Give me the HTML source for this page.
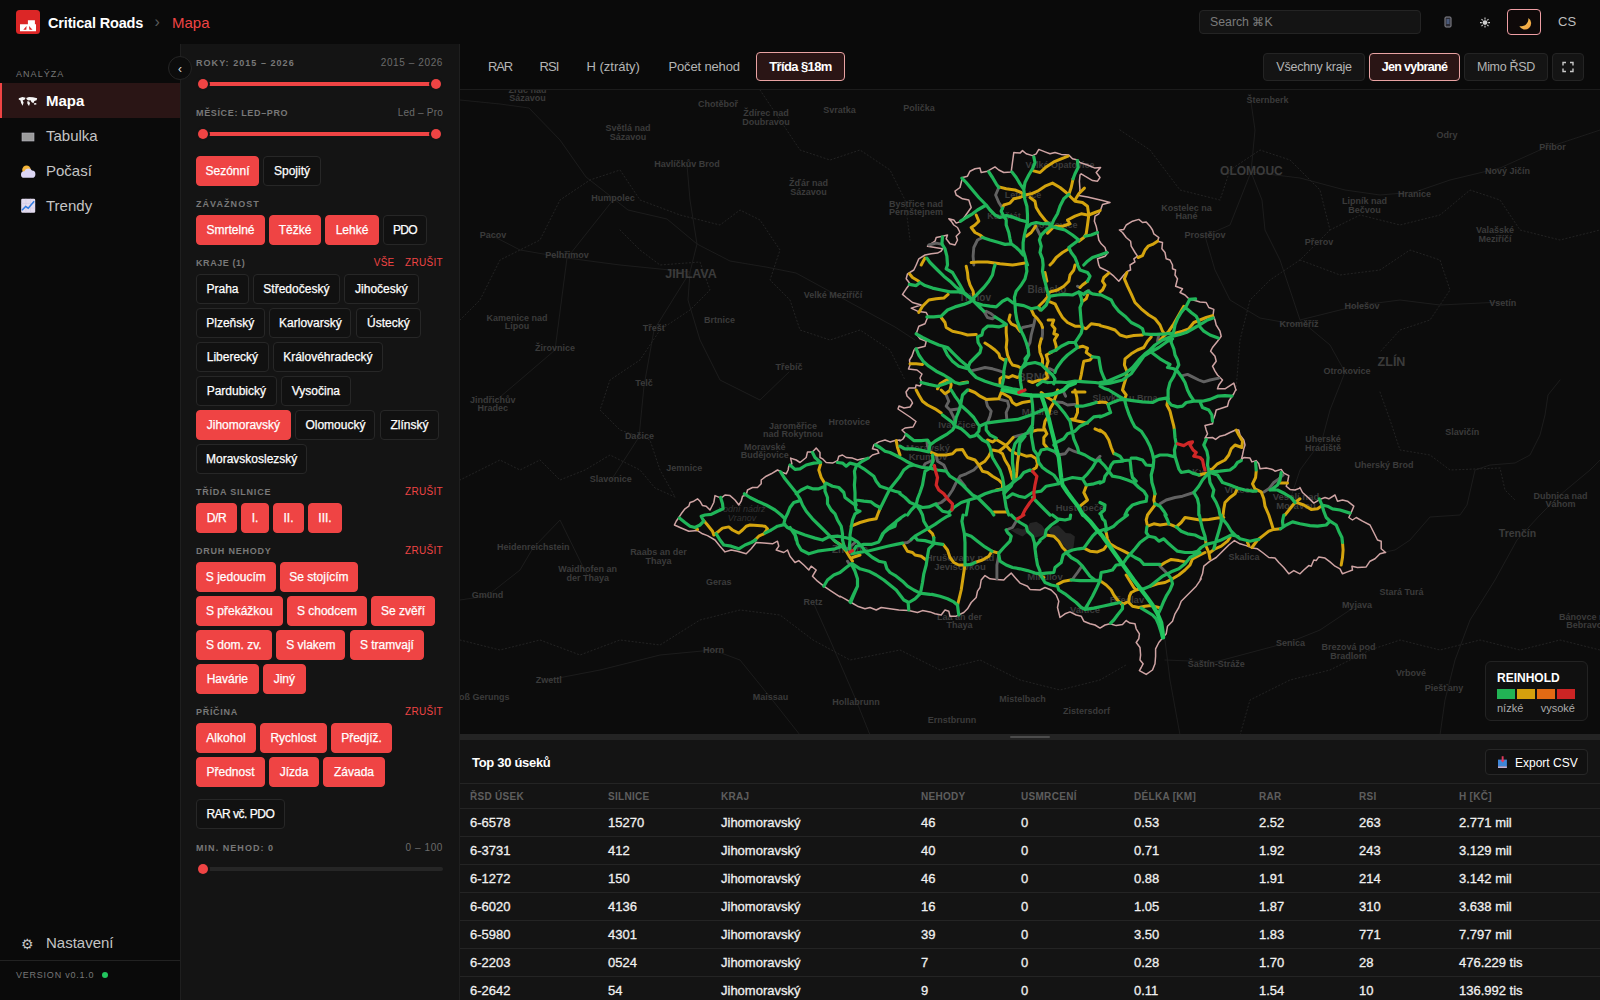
<!DOCTYPE html>
<html lang="cs">
<head>
<meta charset="utf-8">
<title>Critical Roads – Mapa</title>
<style>
*{box-sizing:border-box;margin:0;padding:0}
html,body{width:1600px;height:1000px;overflow:hidden;background:#0a0a0a;color:#eee;font-family:"Liberation Sans",sans-serif;-webkit-font-smoothing:antialiased}
body{position:relative}
/* ---------- top bar ---------- */
.topbar{position:absolute;left:0;top:0;width:1600px;height:44px;background:#0a0a0a}
.logo{position:absolute;left:16px;top:10px;width:24px;height:24px;border-radius:3.5px;background:#dc2626}
.brand{position:absolute;left:48px;top:14px;font-size:14.5px;letter-spacing:-.17px;font-weight:700;color:#fff;line-height:18px;white-space:nowrap}
.crumb-sep{position:absolute;left:154.500px;top:13px;font-size:16px;color:#5a5a5a;line-height:18px}
.crumb{position:absolute;left:172px;top:14px;font-size:15px;color:#ef4444;line-height:18px}
.search{position:absolute;left:1199px;top:10px;width:222px;height:24px;border:1px solid #242424;border-radius:4px;background:#141414;color:#7a7a7a;font-size:12.3px;line-height:22px;padding-left:10px}
.tb-ico{position:absolute;top:9px;height:26px;width:34px}
.tb-ico.on{border:1px solid #ee9ea4;border-radius:4px;background:#0e0909}
.lang{position:absolute;left:1558px;top:14px;font-size:13px;color:#bdbdbd;line-height:16px}
/* ---------- sidebar ---------- */
.sidebar{position:absolute;left:0;top:44px;width:181px;height:956px;background:#0a0a0a;border-right:1px solid #1f1f1f}
.side-label{position:absolute;left:16px;top:25px;font-size:9px;letter-spacing:1.05px;color:#777;line-height:10px}
.nav{position:absolute;left:0;top:39px;width:180px}
.nav a{display:block;height:35px;line-height:35px;padding-left:46px;font-size:15px;color:#c4c4c4;position:relative;text-decoration:none}
.nav a.active{background:#2a1515;color:#fff;font-weight:700;border-left:2px solid #ef4444;padding-left:44px}
.nav a svg{position:absolute;left:0;top:0}
.nav a.active svg{left:-2px}
.side-foot{position:absolute;left:0;bottom:0;width:180px;height:75px}
.side-foot .set{position:absolute;left:46px;top:9px;font-size:15px;color:#c4c4c4;line-height:18px}
.side-foot .gear{position:absolute;left:21px;top:10px;font-size:14px;color:#c4c4c4;line-height:18px}
.side-foot .ver{position:absolute;left:0;top:35px;width:180px;height:40px;border-top:1px solid #222;padding:9px 0 0 16px;font-size:9px;letter-spacing:.77px;color:#777;line-height:10px}
.dot{position:absolute;left:101.500px;top:11px;width:6px;height:6px;border-radius:50%;background:#22c55e}
.collapse{position:absolute;left:168px;top:56px;width:24px;height:24px;border-radius:50%;background:#0c0c0c;border:1px solid #252525;color:#ddd;font-size:12px;text-align:center;line-height:24px;z-index:5}
/* ---------- filter panel ---------- */
.filters{position:absolute;left:181px;top:44px;width:279px;height:956px;background:#141414;border-right:1px solid #1f1f1f}
.f-abs{position:absolute;left:15px}
.f-label{font-size:9px;font-weight:700;letter-spacing:1.05px;color:#787878;line-height:10px;white-space:nowrap}
.f-right{position:absolute;right:16px;font-size:10px;color:#6b6b6b;line-height:10px;letter-spacing:.6px;white-space:nowrap}
.f-act{position:absolute;right:16px;font-size:10px;color:#ef4444;line-height:10px;letter-spacing:.3px;white-space:nowrap}
.track{position:absolute;left:22px;width:233px;height:4px;border-radius:2px;background:#ef4444}
.track.empty{background:#262626;width:240px}
.thumb{position:absolute;width:10px;height:10px;border-radius:50%;background:#ef4444;box-shadow:0 0 0 2px #141414}
.chips{position:absolute;left:15px;height:30px;white-space:nowrap;font-size:0}
.chip{-webkit-text-stroke:.25px #fff;display:inline-block;height:30px;line-height:28.500px;border:1px solid #272727;border-radius:4px;background:#111;color:#fff;font-size:12px;text-align:center;margin-right:4px;vertical-align:top}
.chip.on{background:#ef4444;border-color:#ef4444}
/* ---------- main ---------- */
.maptools{position:absolute;left:460px;top:44px;width:1140px;height:46px;background:#0a0a0a;border-bottom:1px solid #1c1c1c}
.mt{position:absolute;top:15px;font-size:13px;color:#b5b5b5;line-height:16px;white-space:nowrap}
.mbtn{position:absolute;top:9px;height:28px;border:1px solid #242424;border-radius:4px;background:#141414;color:#b5b5b5;font-size:13px;line-height:26px;text-align:center;white-space:nowrap}
.mbtn.on{border-color:#e9a3a3;background:#2a1515;color:#fff;font-weight:700}
.map{position:absolute;left:460px;top:90px;width:1140px;height:644px;background:#0c0c0c;overflow:hidden}
.legend{position:absolute;left:1025px;top:571px;width:103px;height:60px;border:1px solid #232323;border-radius:6px;background:rgba(17,17,17,.94)}
.legend b{position:absolute;left:11px;top:9px;font-size:12px;line-height:14px;color:#fff}
.legend i{position:absolute;top:27px;width:18px;height:10px}
.legend span{position:absolute;top:40px;font-size:11px;line-height:13px;color:#aaa}
.split{position:absolute;left:460px;top:734px;width:1140px;height:6px;background:#242424}
.split:after{content:"";position:absolute;left:550px;top:2px;width:40px;height:2px;border-radius:1px;background:#4c4c4c}
/* ---------- table ---------- */
.tpanel{position:absolute;left:460px;top:740px;width:1140px;height:260px;background:#141414;overflow:hidden}
.ttitle{position:absolute;left:12px;top:15px;font-size:13px;letter-spacing:-.3px;font-weight:700;color:#fff;line-height:16px}
.export{position:absolute;left:1025px;top:9px;width:103px;height:26px;border:1px solid #272727;border-radius:4px;background:#111;font-size:12px;color:#fff;line-height:24px;padding:1px 0 0 29px}
table{position:absolute;left:0;top:43px;width:1140px;border-collapse:collapse;table-layout:fixed}
th{height:25px;border-top:1px solid #242424;border-bottom:1px solid #242424;font-size:10px;font-weight:700;letter-spacing:.3px;color:#5e5e5e;text-align:left;padding:0}
td{-webkit-text-stroke:.3px #f0f0f0;height:28px;border-bottom:1px solid #242424;font-size:13px;color:#f0f0f0;padding:0;white-space:nowrap}
th:first-child,td:first-child{padding-left:10px}
</style>
</head>
<body>
<!-- TOPBAR -->
<header class="topbar">
  <div class="logo"><svg width="24" height="24" viewBox="0 0 24 24"><path d="M4,14.200H11.900V10.200H18.900V14.200H20V21.200H4z" fill="#fff"/><path d="M7.300,19.800L10.600,16L10.300,19.800zM13,16L16.500,19.800L13.400,19.800z" fill="#dc2626"/></svg></div>
  <div class="brand">Critical Roads</div>
  <div class="crumb-sep">›</div>
  <div class="crumb">Mapa</div>
  <div class="search">Search ⌘K</div>
  <div class="tb-ico" style="left:1431px"><svg width="34" height="26"><rect x="14" y="8" width="6" height="10" rx="1" fill="#2b2b33" stroke="#8a8a92" stroke-width="1"/><rect x="15.5" y="10" width="3" height="5" fill="#4a5a7a"/></svg></div>
  <div class="tb-ico" style="left:1468px"><svg width="34" height="26"><circle cx="17" cy="13.600" r="2.400" fill="#cfcfcf"/><g stroke="#cfcfcf" stroke-width="1.100"><path d="M17,8.600v1.800M17,16.800v1.800M12,13.600h1.800M20.200,13.600h1.800M13.500,10.100l1.250,1.250M19.250,15.850l1.250,1.250M13.500,17.100l1.250,-1.250M19.250,11.350l1.250,-1.250"/></g></svg></div>
  <div class="tb-ico on" style="left:1507px"><svg width="32" height="24"><defs><linearGradient id="mg" x1="0" y1="0" x2="1" y2="1"><stop offset="0" stop-color="#f8cf5a"/><stop offset="1" stop-color="#ee9a3c"/></linearGradient></defs><path d="M20.300,8A6.250,6.250 0 1 1 11.300,16A7.200,7.200 0 0 0 20.300,8z" fill="url(#mg)"/></svg></div>
  <div class="lang">CS</div>
</header>

<!-- SIDEBAR -->
<aside class="sidebar">
  <div class="side-label">ANALÝZA</div>
  <nav class="nav">
    <a class="active"><svg width="40" height="35" viewBox="0 0 40 35"><path d="M18.800,15.200l3.600,-1.200 3.200,.8 -.8,1.800 -2.200,1 1,1.800 -1,3.400 -1.500,-2.800 -.6,-2.400 -1.800,-1.200zM26.200,15l2.800,-1 4,.200 4.200,1 -.6,2 -2.200,.8 -1,2.200 -2,-1.200 -.8,-1.800 -2.200,.200 -1.600,-1zM27.200,18.200l2,.200 .8,1.800 -1,2.800 -1.600,-2.200zM34,20.200l2.200,-.2 .2,1.600 -2.200,.2z" fill="#f4f4f4"/></svg>Mapa</a>
    <a><svg width="40" height="35" viewBox="0 0 40 35"><rect x="22" y="15" width="12" height="8" fill="#9b9b9b" stroke="#b9b9c4" stroke-width=".6"/></svg>Tabulka</a>
    <a><svg width="40" height="35" viewBox="0 0 40 35"><circle cx="26.500" cy="16.800" r="4.300" fill="#f5b63b"/><path d="M24.200,24.800a3.300,3.300 0 0 1 .2,-6.600a4.200,4.200 0 0 1 7.600,-.6a3.600,3.600 0 0 1 -.4,7.200z" fill="#dcd6f5"/></svg>Počasí</a>
    <a><svg width="40" height="35" viewBox="0 0 40 35"><rect x="21.200" y="10.700" width="14" height="14" rx="1.200" fill="#e3dcf0"/><path d="M21.200,15.400h14M21.200,20h14M25.900,10.700v14M30.500,10.700v14" stroke="#cfc6e2" stroke-width=".5"/><path d="M22,22.200l3.600,-3.800 2.600,1.800 6,-7" stroke="#2f7be0" stroke-width="1.500" fill="none"/></svg>Trendy</a>
  </nav>
  <div class="side-foot">
    <div class="gear">⚙</div><div class="set">Nastavení</div>
    <div class="ver">VERSION v0.1.0<span class="dot"></span></div>
  </div>
</aside>
<div class="collapse">‹</div>

<!-- FILTERS -->
<section class="filters" id="filters">
  <div class="f-abs f-label" style="top:14px">ROKY: 2015 – 2026</div>
  <div class="f-right" style="top:14px">2015 – 2026</div>
  <div class="track" style="top:38px"></div><div class="thumb" style="left:17px;top:35px"></div><div class="thumb" style="left:250px;top:35px"></div>
  <div class="f-abs f-label" style="top:64px;letter-spacing:0.65px">MĚSÍCE: LED–PRO</div>
  <div class="f-right" style="top:64px"><span style="letter-spacing:.2px">Led – Pro</span></div>
  <div class="track" style="top:88px"></div><div class="thumb" style="left:17px;top:85px"></div><div class="thumb" style="left:250px;top:85px"></div>
  <div class="f-abs f-label" style="top:155px">ZÁVAŽNOST</div>
  <div class="f-abs f-label" style="top:214px;letter-spacing:0.58px">KRAJE (1)</div>
  <div class="f-act" style="top:214px">VŠE<span style="display:inline-block;width:10.500px"></span>ZRUŠIT</div>
  <div class="f-abs f-label" style="top:443px;letter-spacing:0.77px">TŘÍDA SILNICE</div>
  <div class="f-act" style="top:443px">ZRUŠIT</div>
  <div class="f-abs f-label" style="top:502px;letter-spacing:0.78px">DRUH NEHODY</div>
  <div class="f-act" style="top:502px">ZRUŠIT</div>
  <div class="f-abs f-label" style="top:663px;letter-spacing:0.7px">PŘÍČINA</div>
  <div class="f-act" style="top:663px">ZRUŠIT</div>
  <div class="f-abs f-label" style="top:799px">MIN. NEHOD: 0</div>
  <div class="f-right" style="top:799px">0 – 100</div>
  <div class="track empty" style="top:823px"></div><div class="thumb" style="left:17px;top:820px"></div>
  <span class="chip on" style="position:absolute;left:15px;top:112px;width:63px">Sezónní</span>
  <span class="chip" style="position:absolute;left:82.4px;top:112px;width:57.2px">Spojitý</span>
  <span class="chip on" style="position:absolute;left:15px;top:171px;width:69px">Smrtelné</span>
  <span class="chip on" style="position:absolute;left:88px;top:171px;width:52px">Těžké</span>
  <span class="chip on" style="position:absolute;left:144px;top:171px;width:54px">Lehké</span>
  <span class="chip" style="position:absolute;left:202px;top:171px;width:44px;letter-spacing:-0.6px">PDO</span>
  <span class="chip" style="position:absolute;left:15px;top:230px;width:53px">Praha</span>
  <span class="chip" style="position:absolute;left:72.2px;top:230px;width:86.4px">Středočeský</span>
  <span class="chip" style="position:absolute;left:163px;top:230px;width:74.8px">Jihočeský</span>
  <span class="chip" style="position:absolute;left:15px;top:264px;width:68.5px">Plzeňský</span>
  <span class="chip" style="position:absolute;left:88.3px;top:264px;width:82.2px">Karlovarský</span>
  <span class="chip" style="position:absolute;left:175.3px;top:264px;width:64.3px">Ústecký</span>
  <span class="chip" style="position:absolute;left:15px;top:298px;width:72.8px">Liberecký</span>
  <span class="chip" style="position:absolute;left:92px;top:298px;width:109.7px">Královéhradecký</span>
  <span class="chip" style="position:absolute;left:15px;top:332px;width:80.7px">Pardubický</span>
  <span class="chip" style="position:absolute;left:100.2px;top:332px;width:69.4px">Vysočina</span>
  <span class="chip on" style="position:absolute;left:15px;top:366px;width:94.8px">Jihomoravský</span>
  <span class="chip" style="position:absolute;left:114.4px;top:366px;width:80.1px">Olomoucký</span>
  <span class="chip" style="position:absolute;left:199.3px;top:366px;width:58.3px">Zlínský</span>
  <span class="chip" style="position:absolute;left:15px;top:400px;width:111.4px">Moravskoslezský</span>
  <span class="chip on" style="position:absolute;left:15px;top:459px;width:40.9px;letter-spacing:-0.35px">D/R</span>
  <span class="chip on" style="position:absolute;left:60.2px;top:459px;width:27.6px">I.</span>
  <span class="chip on" style="position:absolute;left:92px;top:459px;width:31px">II.</span>
  <span class="chip on" style="position:absolute;left:127px;top:459px;width:34px">III.</span>
  <span class="chip on" style="position:absolute;left:15px;top:518px;width:79.7px">S jedoucím</span>
  <span class="chip on" style="position:absolute;left:99px;top:518px;width:77.8px">Se stojícím</span>
  <span class="chip on" style="position:absolute;left:15px;top:552px;width:86.7px">S překážkou</span>
  <span class="chip on" style="position:absolute;left:106.2px;top:552px;width:79.5px">S chodcem</span>
  <span class="chip on" style="position:absolute;left:190.2px;top:552px;width:63.6px">Se zvěří</span>
  <span class="chip on" style="position:absolute;left:15px;top:586px;width:75.6px">S dom. zv.</span>
  <span class="chip on" style="position:absolute;left:95.2px;top:586px;width:69.3px">S vlakem</span>
  <span class="chip on" style="position:absolute;left:169px;top:586px;width:73.8px">S tramvají</span>
  <span class="chip on" style="position:absolute;left:15px;top:620px;width:62.7px">Havárie</span>
  <span class="chip on" style="position:absolute;left:82px;top:620px;width:42.7px">Jiný</span>
  <span class="chip on" style="position:absolute;left:15px;top:679px;width:60px">Alkohol</span>
  <span class="chip on" style="position:absolute;left:79px;top:679px;width:66.8px">Rychlost</span>
  <span class="chip on" style="position:absolute;left:150px;top:679px;width:61px">Předjíž.</span>
  <span class="chip on" style="position:absolute;left:15px;top:713px;width:69px">Přednost</span>
  <span class="chip on" style="position:absolute;left:88px;top:713px;width:50px">Jízda</span>
  <span class="chip on" style="position:absolute;left:142px;top:713px;width:62px">Závada</span>
  <span class="chip" style="position:absolute;left:15px;top:755px;width:88.7px;letter-spacing:-0.5px">RAR vč. PDO</span>
</section>

<!-- MAIN -->
<div class="maptools">
  <span class="mt" style="left:28px;letter-spacing:-1.2px">RAR</span>
  <span class="mt" style="left:79.600px;letter-spacing:-.9px">RSI</span>
  <span class="mt" style="left:126.500px">H (ztráty)</span>
  <span class="mt" style="left:208.500px;letter-spacing:-.15px">Počet nehod</span>
  <span class="mbtn on" style="left:296px;top:8px;height:29px;line-height:27px;width:89px;letter-spacing:-.6px">Třída §18m</span>
  <span class="mbtn" style="left:803px;width:102px;font-size:12.500px;letter-spacing:-.25px">Všechny kraje</span>
  <span class="mbtn on" style="left:909px;width:91px;font-size:12.500px;letter-spacing:-.66px">Jen vybrané</span>
  <span class="mbtn" style="left:1004px;width:84px;font-size:12.500px;letter-spacing:-.32px">Mimo ŘSD</span>
  <span class="mbtn" style="left:1092px;width:32px"><svg width="30" height="26"><path d="M10 11.500V8.500h3M17 8.500h3v3M20 14.500v3h-3M13 17.500h-3v-3" stroke="#c8c8c8" stroke-width="1.400" fill="none"/></svg></span>
</div>
<div class="map" id="map">
<!--MAPSVG--><svg class="roads" width="1140" height="645" viewBox="460 90 1140 645" style="position:absolute;left:0;top:0" fill="none" stroke-linecap="round" stroke-linejoin="round">
<g fill="#252525" stroke="none"><path d="M1010.5,530 1017.5,528 1023,529.4 1028,526.6 1030,523 1036.4,521.7 1042,525.2 1044.8,529.4 1044,535 1039.2,536.4 1034.3,537.8 1030.8,535 1026.6,533.6 1022.4,536.4 1016,533.6z"/><path d="M1048.3,530 1053.2,526.6 1058,525.2 1061.6,528.7 1065.8,532.9 1070.7,533.6 1074.9,536.4 1074.2,542 1073.5,547.6 1069.3,550.4 1066.5,549 1063,544.8 1060.2,540.6 1056,536.4 1050.4,534.3z"/></g>
<g stroke="#1c1c1c" stroke-width="1" fill="none"><path d="M460,100 500,104 529,108 560,140 586,177 628,210 667,219 697,244 730,261 766,267 796,273 829,291 862,309 895,327 915,340"/><path d="M697,244 690,272 688,300 700,340 720,380 760,400 789,372"/><path d="M687,165 690,200 697,244"/><path d="M1250,95 1255,130 1251,172 1262,200 1265,230 1280,260 1290,290 1300,320 1330,345 1345,372 1330,410 1322,440 1300,470 1290,500"/><path d="M1251,172 1300,178 1345,190 1380,195 1415,192 1450,180 1500,168 1540,150 1600,130"/><path d="M1205,236 1230,225 1251,172"/><path d="M1205,236 1215,270 1230,300 1260,318 1299,325"/><path d="M1300,320 1340,310 1362,305 1400,300 1440,305 1502,302"/><path d="M1385,552 1395,550 1410,540 1430,517 1460,515 1467,505 1475,470 1490,465 1515,463 1530,455 1540,435 1545,415 1548,395 1560,380"/><path d="M1440,735 1445,700 1455,660 1470,620 1495,580 1517,540 1540,515 1560,495 1590,470 1600,460"/><path d="M1165,640 1170,680 1180,735"/><path d="M1165,660 1215,662 1260,650 1290,642 1320,630 1356,606"/><path d="M813,602 830,640 856,700 870,735"/><path d="M713,650 740,660 770,697 800,735"/><path d="M548,680 600,670 660,655 713,650"/><path d="M460,600 487,596 520,570 533,548 560,520 587,575"/><path d="M610,482 639,437 644,386 654,330 690,272"/><path d="M493,403 520,380 555,350 567,258 613,200"/><path d="M493,236 520,250 567,258 620,265 690,272"/></g>
<g stroke="#232323" stroke-width="1" stroke-dasharray="1.2 2.4" fill="none"><path d="M675,497 655,488 640,470 610,455 585,470 560,480 540,460 520,470 500,460 480,470 460,480"/><path d="M460,320 480,300 500,260 540,240 560,200 590,180 620,170 640,200 680,215 720,225 740,210 760,220 780,250 770,280 790,300 800,330 830,340 860,330 890,350 905,380"/><path d="M620,230 640,250 660,265 700,262 710,290 690,310 660,330 640,360 610,380 600,410 620,430 650,440 660,470 675,497"/><path d="M760,90 780,120 800,150 830,160 860,150 890,170 905,200 910,240"/><path d="M1120,130 1150,150 1180,190 1220,200 1230,170 1260,150 1290,160 1320,190 1330,230 1300,260 1270,280 1250,300 1240,340 1236,390"/><path d="M1330,230 1360,215 1400,225 1440,215 1470,190 1500,200 1520,230 1560,240 1600,230"/><path d="M1300,260 1340,275 1380,270 1410,250 1440,260 1450,290 1430,320 1400,330 1380,352"/><path d="M1380,392 1390,420 1400,450 1430,455 1450,470 1500,468 1505,490 1515,500"/><path d="M460,640 500,650 540,640 580,655 620,640 660,645 700,620 740,610 780,615 813,640 850,660 900,650 940,670 980,660 1020,680 1060,690 1100,680 1126,665"/><path d="M1240,735 1250,700 1290,680 1330,670 1370,650 1400,640 1440,650 1480,640 1520,650 1560,640 1600,650"/></g>
<g font-family="Liberation Sans, sans-serif" font-weight="700" text-anchor="middle" fill="#3b3b3b" stroke="none"><text x="527.5" y="93" font-size="9">Zruč nad</text><text x="527.5" y="101" font-size="9">Sázavou</text><text x="718" y="107" font-size="9">Chotěboř</text><text x="766" y="116" font-size="9">Ždírec nad</text><text x="766" y="124.5" font-size="9">Doubravou</text><text x="839.5" y="112.5" font-size="9">Svratka</text><text x="919" y="110.5" font-size="9">Polička</text><text x="628" y="131" font-size="9">Světlá nad</text><text x="628" y="139.5" font-size="9">Sázavou</text><text x="687" y="167" font-size="9">Havlíčkův Brod</text><text x="808.6" y="186" font-size="9">Žďár nad</text><text x="808.6" y="194.5" font-size="9">Sázavou</text><text x="613" y="200.5" font-size="9">Humpolec</text><text x="916" y="206.5" font-size="9">Bystřice nad</text><text x="916" y="215" font-size="9">Pernštejnem</text><text x="493" y="237.5" font-size="9">Pacov</text><text x="567" y="258" font-size="9">Pelhřimov</text><text x="691" y="277.5" font-size="12.5">JIHLAVA</text><text x="833" y="298" font-size="9">Velké Meziříčí</text><text x="517" y="320.5" font-size="9">Kamenice nad</text><text x="517" y="329" font-size="9">Lipou</text><text x="719.5" y="322.5" font-size="9">Brtnice</text><text x="654.4" y="331" font-size="9">Třešť</text><text x="555" y="351" font-size="9">Žirovnice</text><text x="789" y="370" font-size="9">Třebíč</text><text x="644" y="385.5" font-size="9">Telč</text><text x="1267.6" y="103" font-size="9">Šternberk</text><text x="1447" y="138" font-size="9">Odry</text><text x="1552.6" y="149.5" font-size="9">Příbor</text><text x="1251.4" y="174.5" font-size="12">OLOMOUC</text><text x="1507.6" y="174" font-size="9">Nový Jičín</text><text x="1414.6" y="197" font-size="9">Hranice</text><text x="1364.5" y="204" font-size="9">Lipník nad</text><text x="1364.5" y="212.5" font-size="9">Bečvou</text><text x="1186.6" y="210.6" font-size="9">Kostelec na</text><text x="1186.6" y="219" font-size="9">Hané</text><text x="1205" y="238" font-size="9">Prostějov</text><text x="1319" y="245" font-size="9">Přerov</text><text x="1495" y="233" font-size="9">Valašské</text><text x="1495" y="241.5" font-size="9">Meziříčí</text><text x="1362" y="308.5" font-size="9">Holešov</text><text x="1502.8" y="305.5" font-size="9">Vsetín</text><text x="1299" y="327" font-size="9">Kroměříž</text><text x="1391.5" y="366" font-size="12.5">ZLÍN</text><text x="1347" y="373.5" font-size="9">Otrokovice</text><text x="492.8" y="402.5" font-size="9">Jindřichův</text><text x="492.8" y="411" font-size="9">Hradec</text><text x="639.4" y="439" font-size="9">Dačice</text><text x="793" y="428.5" font-size="9">Jaroměřice</text><text x="793" y="437" font-size="9">nad Rokytnou</text><text x="849.2" y="425" font-size="9">Hrotovice</text><text x="764.7" y="449.6" font-size="9">Moravské</text><text x="764.7" y="458" font-size="9">Budějovice</text><text x="684.3" y="470.6" font-size="9">Jemnice</text><text x="610.8" y="482" font-size="9">Slavonice</text><text x="533.2" y="549.7" font-size="9">Heidenreichstein</text><text x="658.4" y="555.2" font-size="9">Raabs an der</text><text x="658.4" y="563.5" font-size="9">Thaya</text><text x="587.7" y="572.4" font-size="9">Waidhofen an</text><text x="587.7" y="580.7" font-size="9">der Thaya</text><text x="718.8" y="585" font-size="9">Geras</text><text x="487.6" y="597.6" font-size="9">Gmünd</text><text x="813" y="605.2" font-size="9">Retz</text><text x="713.6" y="653" font-size="9">Horn</text><text x="548.7" y="683" font-size="9">Zwettl</text><text x="479" y="699.5" font-size="9">Groß Gerungs</text><text x="770.6" y="700" font-size="9">Maissau</text><text x="856.1" y="705.3" font-size="9">Hollabrunn</text><text x="959.5" y="620" font-size="9">Laa an der</text><text x="959.5" y="628.4" font-size="9">Thaya</text><text x="1401.5" y="595" font-size="9">Stará Turá</text><text x="1356.9" y="608" font-size="9">Myjava</text><text x="1587" y="619.5" font-size="9">Bánovce nad</text><text x="1587" y="628" font-size="9">Bebravou</text><text x="1290.6" y="646" font-size="9">Senica</text><text x="1348.4" y="650" font-size="9">Brezová pod</text><text x="1348.4" y="659" font-size="9">Bradlom</text><text x="1216.2" y="667" font-size="9">Šaštín-Stráže</text><text x="1410.9" y="676" font-size="9">Vrbové</text><text x="1444" y="691.3" font-size="9">Piešťany</text><text x="1022.4" y="701.5" font-size="9">Mistelbach</text><text x="1086.6" y="714" font-size="9">Zistersdorf</text><text x="951.9" y="723.2" font-size="9">Ernstbrunn</text><text x="1462.3" y="435" font-size="9">Slavičín</text><text x="1560.5" y="498.6" font-size="9">Dubnica nad</text><text x="1560.5" y="507" font-size="9">Váhom</text><text x="1517.5" y="537" font-size="10.5">Trenčín</text><text x="1384" y="468" font-size="9">Uherský Brod</text><text x="1323" y="442" font-size="9">Uherské</text><text x="1323" y="450.5" font-size="9">Hradiště</text><text x="1244" y="560" font-size="9">Skalica</text><text x="1060" y="168" font-size="9">Velké Opatovice</text><text x="1023" y="198" font-size="9">Letovice</text><text x="1004" y="218.6" font-size="9">Kunštát</text><text x="1055" y="228" font-size="9">Boskovice</text><text x="1047" y="293" font-size="10">Blansko</text><text x="975" y="301" font-size="10">Tišnov</text><text x="1034" y="380.5" font-size="11">BRNO</text><text x="957" y="428" font-size="9.5">Ivančice</text><text x="1040" y="415" font-size="9.5">Modřice</text><text x="1125" y="401" font-size="9">Slavkov u Brna</text><text x="928" y="451" font-size="9.5">Moravský</text><text x="928" y="460" font-size="9.5">Krumlov</text><text x="1080" y="511" font-size="9.5">Hustopeče</text><text x="1205" y="475" font-size="9.5">Kyjov</text><text x="1240" y="493" font-size="9.5">Vracov</text><text x="1296" y="500" font-size="9.5">Veselí nad</text><text x="1296" y="509" font-size="9.5">Moravou</text><text x="850" y="553" font-size="10">Znojmo</text><text x="960" y="561" font-size="9.5">Hrušovany nad</text><text x="960" y="570" font-size="9.5">Jevišovkou</text><text x="1045" y="580" font-size="9.5">Mikulov</text><text x="1085" y="613" font-size="9.5">Valtice</text><text x="1127" y="603" font-size="9.5">Břeclav</text><text x="742" y="511.500" font-size="9" font-style="italic" font-weight="400" fill="#333">vodní nádrž</text><text x="742" y="520.500" font-size="9" font-style="italic" font-weight="400" fill="#333">Vranov</text></g>
<path stroke="#cfa4a4" stroke-width="1.5" d="M916.2,265.0 918.8,258.8 925.0,255.0 931.2,253.8 937.5,253.1 941.2,251.2 942.5,248.8 927.5,246.2 935.0,241.2 936.2,237.5 942.5,236.2 947.5,235.0 946.2,238.8 950.0,243.8 955.0,245.0 957.5,240.0 956.2,236.2 960.0,232.5 957.5,227.5 953.8,225.0 951.2,221.2 948.8,218.8 953.8,220.0 956.2,223.1 961.2,221.2 965.0,216.2 971.2,207.5 968.8,200.0 962.5,198.8 956.2,195.0 955.0,191.2 960.0,187.5 961.2,182.5 962.5,177.5 967.5,176.2 970.0,171.2 975.0,168.8 980.0,168.1 981.2,172.5 987.5,171.2 995.0,166.9 998.8,170.0 1003.8,172.5 1011.2,171.9 1013.8,152.5 1020.0,153.1 1022.5,150.6 1026.2,153.8 1032.5,155.6 1036.2,153.8 1038.8,149.4 1045.0,151.9 1050.0,153.8 1055.0,152.5 1061.2,154.4 1068.8,155.0 1072.5,158.8 1077.5,160.0 1080.0,162.5M1080.0,162.5 1087.5,165.0 1095.0,168.1 1100.6,167.5 1096.2,172.5 1100.0,177.5 1097.5,181.2 1092.5,180.6 1085.0,176.2 1081.2,173.8 1080.0,175.0 1079.4,181.2 1080.0,190.0 1078.8,195.6 1087.5,196.9 1095.0,198.8 1102.5,200.6 1110.0,202.5 1102.5,204.4 1100.6,210.0 1098.8,213.8 1095.0,216.2 1094.4,221.2 1096.2,226.2 1097.5,232.5 1098.8,240.0 1101.2,243.8 1105.0,247.5 1106.2,251.2 1108.1,252.5 1105.0,256.2 1097.5,258.8 1098.8,265.0M1130.0,265.0 1135.0,261.9 1133.8,258.8 1137.5,256.2 1135.0,252.5 1131.2,246.2 1130.6,241.2 1126.2,237.5 1122.5,232.5 1119.4,230.0 1123.8,229.4 1126.2,225.0 1132.5,221.2 1138.8,219.4 1142.5,222.5 1146.2,221.9 1150.0,226.2 1152.5,230.0 1153.8,233.8 1158.8,237.5 1157.5,241.2 1162.5,242.5 1161.9,248.8 1165.0,252.5 1166.2,258.8 1170.0,260.0 1172.5,265.0M1098.8,265.0 1100.0,267.5 1107.5,271.2 1113.8,276.2 1118.8,281.2 1123.8,275.0 1127.5,271.2 1130.6,270.0 1130.0,265.0M1172.5,265.0 1172.5,268.8 1175.6,270.0 1175.0,275.0 1177.5,278.8 1175.6,286.2 1182.5,288.8 1180.0,292.5 1185.0,295.0 1188.8,298.8 1195.0,300.6 1200.0,301.9 1206.2,302.5 1208.8,307.5 1213.8,309.4 1213.1,315.0 1215.0,320.0 1216.2,325.0 1220.0,331.2 1221.2,336.2 1217.5,341.2 1212.5,347.5 1210.6,351.2 1215.0,356.2 1216.2,361.2 1212.5,366.2 1215.0,371.2 1217.5,375.0 1220.0,377.5 1222.5,380.0 1218.8,385.0 1217.5,388.8 1225.0,388.8 1233.8,383.1 1235.6,388.8 1236.2,390.0M1235.6,390.0 1233.8,393.8 1231.2,397.5 1228.8,401.2 1227.5,406.2 1223.8,407.5 1220.0,408.8 1216.2,410.0 1215.0,415.0 1213.1,420.0 1212.5,423.8 1205.0,425.6 1206.2,430.0 1207.5,433.8 1205.0,438.1 1212.5,437.5 1215.6,439.4 1220.0,436.2 1225.0,435.0 1230.0,432.5 1235.6,430.0 1238.8,430.0 1240.0,435.0 1243.8,440.0 1245.0,445.0 1243.8,448.8 1242.5,455.0 1241.2,460.0 1243.8,457.5 1250.0,458.1 1251.9,461.9 1256.2,460.6 1258.8,463.8 1260.0,468.8 1266.2,468.1 1272.5,469.4 1275.0,471.2 1281.2,469.4 1283.8,473.1 1288.8,475.6 1287.5,482.5 1286.2,486.2 1290.0,489.4 1295.0,490.0 1300.0,488.1M1300.0,487.5 1302.5,492.5 1308.8,498.1 1313.8,503.1 1320.0,499.4 1325.0,497.5 1328.8,498.8 1335.0,495.0 1337.5,501.2 1342.5,500.0 1347.5,501.2 1353.8,506.2 1351.2,512.5 1348.8,517.5 1352.5,520.0 1356.2,517.5 1362.5,521.2 1370.0,525.0 1373.8,532.5 1377.5,540.0 1381.2,541.2 1381.2,548.8 1385.6,552.5M1385.0,552.5 1380.0,553.8 1375.0,558.8 1370.0,561.2 1366.2,566.9 1357.5,567.5 1351.9,566.2 1352.5,570.0 1347.5,571.9 1342.5,573.8 1340.0,568.8 1335.0,566.2 1330.0,561.9 1325.0,558.1 1318.8,556.9 1316.2,560.6 1313.8,560.0 1311.2,566.2 1308.8,565.6 1303.8,570.0 1300.0,573.8 1293.8,570.6 1288.8,573.8 1283.8,567.5 1278.8,562.5 1275.0,558.1 1268.8,557.5 1262.5,552.5 1257.5,548.8 1252.5,548.1 1246.2,545.6 1240.0,543.8 1234.4,540.6 1228.8,545.0 1222.5,551.2 1216.2,557.5 1210.0,561.2 1203.8,566.2 1202.5,573.8 1200.0,580.0M1201.2,578.8 1196.2,586.2 1191.2,591.2 1186.2,596.2 1181.2,601.2 1178.8,607.5 1175.0,613.8 1172.5,621.2 1167.5,626.2 1166.2,633.8 1161.9,638.8M1126.2,620.6 1122.5,624.4 1116.2,625.6 1110.0,623.8 1105.0,625.0 1100.0,628.1 1095.0,625.0 1090.0,623.8 1083.8,621.2 1081.2,616.2 1076.2,615.0 1070.0,611.9 1065.0,613.8 1060.0,617.5 1057.5,607.5 1058.8,601.2 1056.2,595.0 1051.2,590.0 1045.0,587.5 1040.0,590.0M1161.9,638.8 1158.8,642.5 1155.6,648.8 1155.6,656.2 1155.0,663.8 1152.5,670.0 1146.2,674.4 1139.4,670.6 1141.2,667.5 1143.1,663.8 1140.0,660.0 1140.6,655.0 1140.0,647.5 1136.2,642.5 1138.8,638.8 1139.4,633.8 1136.2,628.8 1135.0,623.8 1130.0,623.1 1126.2,620.6M1040.0,590.0 1030.0,589.4 1027.5,586.2 1020.0,583.1 1015.0,577.5 1011.2,573.1 1006.2,577.5 1003.8,580.0 996.2,579.4 990.0,578.8 985.0,575.6 981.2,580.0 980.0,587.5 977.5,591.2 976.2,597.5 971.2,602.5 967.5,608.8 963.8,612.5 956.2,616.2 950.0,616.2 948.8,611.2 945.0,610.0 941.2,615.0 935.0,613.8 930.0,611.9 922.5,610.6 917.5,612.5 908.8,610.6 898.8,610.0 890.0,608.8 881.2,607.5 876.2,610.0 870.0,607.5 865.0,608.8 857.5,606.2 851.2,602.5 845.0,598.8 840.0,596.2M840.0,596.9 831.2,591.2 823.8,586.2 817.5,581.2 812.5,576.2 816.2,570.0 811.2,566.2 808.8,570.0 803.8,565.0 798.8,560.6 795.0,562.5 790.0,556.2 787.5,550.0 783.8,552.5 776.2,550.0 778.8,546.2 777.5,541.2 772.5,543.8 763.8,543.1 756.2,542.5 751.2,548.8 746.2,553.8 737.5,551.2 731.2,550.0 725.0,551.9 720.0,546.2 715.0,540.0 707.5,535.6 702.5,533.8 697.5,530.6 688.8,531.2 680.0,527.5 674.4,525.0 676.2,521.2 678.8,517.5 681.2,513.8 685.0,508.8 688.8,506.2 690.0,502.5 693.8,501.2 697.5,498.8 700.0,501.2 702.5,505.6 706.2,506.2 710.0,510.0 713.8,502.5 715.0,495.6 721.2,498.1 725.0,495.0 730.0,495.6 735.0,500.0 738.8,505.0 741.2,501.2 742.5,496.2 746.2,495.0 747.5,490.0M747.5,490.0 752.5,487.5 757.5,487.5 761.2,483.8 761.2,480.0 766.2,476.2 771.2,473.8 777.5,470.0 782.5,472.5 786.2,473.8 788.1,470.0 788.8,466.2 791.9,463.8 790.6,458.1 796.2,460.0 800.0,462.5 806.2,457.5 807.5,451.9 812.5,451.9 816.2,448.1 820.0,452.5 820.0,457.5 822.5,458.8 826.2,462.5 832.5,463.1 837.5,460.6 838.8,456.2 842.5,455.0 846.2,457.5 852.5,458.1 857.5,460.0 862.5,458.8 868.8,458.1 872.5,455.0 878.8,453.1 877.5,450.0 872.5,448.8 873.8,445.0 878.8,441.9 885.0,440.0 890.0,441.9 895.0,440.6 900.0,440.0M900.0,441.0 903.0,439.0 906.0,434.0 902.0,430.0 905.0,428.0 913.0,427.0 916.0,421.5 910.0,417.0 904.0,413.0 898.0,409.0 899.0,406.0 904.0,408.0 910.0,407.0 912.5,403.0 911.0,400.0 907.0,396.0 906.0,392.0 909.0,388.0 915.5,388.0 916.0,385.0 920.0,386.0 922.0,383.0 920.0,378.0 922.0,374.0 917.0,370.0 908.5,369.0 910.0,365.0 909.5,360.0 912.0,356.0 914.0,350.0M915.0,348.8 925.0,346.2 926.2,341.2 920.0,338.8 916.2,333.8 918.8,326.2 925.0,323.8 928.1,316.2 926.2,312.5 917.5,311.2 911.2,308.1 921.2,305.0 912.5,302.5 906.2,297.5 902.5,294.4 906.2,288.8 910.0,283.8 906.2,278.8 907.5,273.8 913.8,270.0 916.2,265.0"/>
<path stroke="#626262" stroke-width="2.9" d="M998.8,187.5 995.6,195.0 998.8,202.5 1002.5,208.1M982.5,237.5 977.5,240.0 973.8,247.5 973.1,256.2 973.8,265.0M1035.6,226.2 1038.8,232.5 1040.6,236.2M928.8,245.0 936.2,243.1 942.5,244.4M983.8,311.2 987.5,317.5 992.5,318.8 995.0,316.9 991.2,313.8 986.2,311.2M1020.0,331.2 1022.5,327.5 1028.8,326.2 1033.8,325.0 1035.0,318.8M1033.8,325.0 1031.2,335.0 1030.0,342.5 1027.5,347.5M1042.5,327.5 1042.5,333.8 1041.9,338.8M970.0,371.2 977.5,369.4 985.0,367.5 992.5,368.8 998.8,370.6 1003.8,372.5M1045.6,368.8 1050.0,368.8 1055.0,371.2M1077.5,286.2 1080.0,287.5M1085.0,292.5 1088.8,290.6 1090.0,293.1M1182.5,375.6 1187.5,374.4 1192.5,376.9 1198.8,380.0 1203.8,381.9 1210.0,380.0 1218.8,378.1M1152.5,334.4 1158.8,335.0 1157.5,341.2M946.2,395.0 948.8,401.2 946.2,406.2 950.0,410.0 953.8,417.5 955.0,422.5M950.0,410.0 960.0,408.8M986.2,401.2 987.5,406.2 991.2,411.2 990.0,416.2 987.5,422.5M1000.0,399.4 1007.5,401.2 1008.8,406.2 1006.2,412.5 1006.9,420.0M1055.0,401.9 1062.5,402.5 1067.5,405.0 1075.0,404.4M1013.8,436.9 1021.2,435.0 1028.8,433.1M978.8,465.0 973.8,470.0 966.2,473.8 960.0,476.2 956.2,482.5 952.5,490.0 947.5,497.5 941.2,502.5 936.2,504.4M960.0,480.0 965.0,486.2M926.9,441.2 927.5,446.2 930.0,451.2M936.2,455.0 937.5,461.2 943.8,465.0 946.2,470.0M933.1,460.0 925.0,463.8 923.1,467.5M1053.8,451.2 1057.5,455.0 1065.0,453.8 1068.8,448.8 1073.8,451.2 1077.5,452.5M900.0,446.2 903.8,448.8M1063.8,392.5 1065.6,396.2M1095.0,461.2 1100.0,456.2M1160.0,503.8 1166.2,500.0 1175.0,497.5 1182.5,496.2 1193.8,492.5M1263.8,491.9 1268.8,488.8 1273.8,482.5 1278.8,478.8 1283.1,475.0M847.5,548.8 855.0,542.5M847.5,561.2 850.0,565.0M902.5,543.1 907.5,542.5 911.2,540.0M998.8,555.0 996.9,565.0 996.9,578.8M1006.2,530.0 1012.5,527.5 1016.2,521.2 1017.5,518.8M1071.9,580.0 1077.5,572.5 1081.9,566.2M1160.0,566.2 1163.8,570.0 1167.5,573.8"/>
<path stroke="#d4a40e" stroke-width="3.0" d="M1068.1,156.2 1061.2,158.8 1053.8,161.9 1046.2,166.9 1040.0,172.5 1032.5,170.6M998.8,186.9 1006.2,188.8 1015.0,190.0 1021.2,192.5 1023.8,195.0M1002.5,208.1 1003.8,205.0 1010.0,203.1 1013.8,198.8 1020.0,197.5 1023.8,195.6M1025.0,195.0 1031.2,193.8 1037.5,191.2 1045.0,186.2 1052.5,183.1 1060.0,187.5 1066.2,192.5 1071.2,197.5 1075.0,201.2 1082.5,202.5 1087.5,206.2 1088.8,215.0 1087.5,225.0 1086.2,233.8 1083.8,237.5 1078.8,241.2M1030.0,197.5 1035.0,201.2 1036.2,207.5 1040.0,213.8 1045.0,220.0 1050.0,225.0M1073.1,178.8 1071.2,187.5 1068.8,194.4M1075.0,200.0 1078.8,193.8 1084.4,188.1M1088.8,215.0 1095.0,212.5 1100.0,210.6M1055.0,226.2 1062.5,226.2 1070.0,223.8 1067.5,220.0 1075.0,216.2 1081.2,213.8 1087.5,215.0M1053.1,227.5 1047.5,233.1M1035.6,226.2 1031.2,232.5 1026.2,236.2M976.2,215.0 978.8,221.2 975.0,225.0 971.2,227.5 975.0,232.5 980.0,235.0 983.1,237.5M1068.8,248.8 1062.5,252.5 1056.2,257.5 1052.5,262.5 1050.0,265.0M925.0,258.1 922.5,262.5 921.2,265.0M971.2,262.5 977.5,261.9 987.5,261.9 1000.0,263.8 1012.5,265.0 1025.0,263.1M1138.1,257.5 1142.5,255.6 1145.0,250.0 1148.1,246.2 1152.5,244.4 1157.5,241.2M909.4,273.8 912.5,277.5 918.8,281.2M918.8,312.5 922.5,306.2 928.8,300.0 936.2,298.8 943.8,298.1 948.1,294.4M966.2,266.2 967.5,272.5 968.1,278.8 970.0,285.0 973.1,291.2 973.8,296.2M941.2,317.5 945.0,322.5 946.2,327.5 952.5,331.2 961.2,333.1 967.5,335.0 976.2,334.4M1045.0,272.5 1046.9,281.2M1075.0,265.0 1073.8,270.0 1070.0,275.0 1068.8,281.2 1063.8,286.2 1057.5,290.0 1050.0,291.9 1047.5,295.0M1048.8,295.6 1043.8,301.2 1038.8,306.2 1040.0,310.0M1031.2,309.4 1033.8,315.0 1037.5,318.8 1041.2,323.8 1042.5,327.5M1041.2,338.8 1039.4,346.2 1040.0,352.5 1042.5,358.8 1042.5,363.8M1050.0,301.9 1055.0,303.8 1058.8,311.2 1062.5,317.5 1067.5,322.5 1075.0,326.2 1080.0,326.2M1048.1,320.0 1053.8,320.0 1051.9,325.0 1055.0,328.8 1053.8,333.8 1057.5,335.0 1054.4,340.0 1056.2,346.2 1056.2,350.0M1080.0,326.2 1086.2,328.8 1091.2,323.8 1100.0,325.0M1051.2,352.5 1046.2,355.0 1048.1,361.2 1046.2,367.5 1047.5,372.5M1077.5,347.5 1082.5,346.2 1087.5,348.1 1086.2,352.5 1092.5,356.9 1090.0,360.0 1083.8,361.2 1082.5,367.5 1081.2,375.0 1080.0,380.0M1010.0,315.0 1008.8,320.0 1011.2,323.8 1016.2,326.2 1020.0,331.2M1006.2,325.0 1006.2,332.5 1006.9,340.0 1006.2,347.5 1007.5,355.0 1010.0,361.2 1012.5,365.0 1017.5,366.2 1020.0,367.5M985.0,343.1 990.0,346.2 995.0,350.0 998.8,353.8 1000.0,357.5 1003.8,360.0 1005.6,359.4M910.0,363.8 916.2,363.8 922.5,364.4M937.5,388.8 940.0,383.8 946.2,380.0 950.0,379.4 951.2,385.0 950.0,390.0M958.8,383.8 963.8,382.5 967.5,381.9M1000.0,385.0 1000.0,378.8 1003.8,376.2 1008.8,377.5 1012.5,375.6 1017.5,377.5 1020.0,376.2M1046.2,372.5 1047.5,377.5 1043.8,380.0 1037.5,380.6 1032.5,382.5 1028.8,381.2M1082.5,301.2 1086.2,298.8 1087.5,295.0M1087.5,281.2 1082.5,285.0 1080.0,287.5M1108.8,273.1 1103.8,277.5 1102.5,281.2 1105.0,285.0 1102.5,290.0 1100.0,291.9M1126.9,272.5 1124.4,278.8 1127.5,286.2 1131.2,293.8 1135.0,302.5 1141.2,308.8 1148.8,315.0 1155.0,318.8 1160.0,325.0 1162.5,331.2 1165.0,334.4M1100.0,325.6 1107.5,327.5 1115.0,330.0 1120.0,335.0 1126.2,336.9 1133.8,335.6 1142.5,335.0M1151.2,336.9 1147.5,341.2 1143.8,347.5 1137.5,350.0 1131.2,353.8 1125.0,358.8 1124.4,365.0 1126.9,371.2 1126.2,377.5 1123.8,385.0 1122.5,390.0M1183.8,306.2 1178.8,315.0 1173.8,323.8 1168.8,331.2 1165.0,335.0 1160.0,340.0M1175.0,333.1 1182.5,331.2 1188.8,328.8 1193.8,322.5 1200.0,320.0 1206.2,317.5 1212.5,315.6M916.2,390.0 918.8,395.0 922.5,401.2 927.5,405.0 935.0,408.8 941.2,413.1M941.2,390.0 945.0,393.8 948.8,391.2 950.0,390.0M968.8,390.0 975.0,392.5 980.0,396.2 986.2,399.4 998.8,398.8 1001.2,392.5 1003.8,390.0M1001.2,392.5 1010.0,397.5 1012.5,402.5 1016.2,405.0 1022.5,402.5 1030.0,401.2M931.2,452.5 937.5,455.0 946.2,455.0 952.5,453.8 956.2,450.0 962.5,449.4 965.0,453.8 967.5,457.5 975.0,460.0 978.8,465.0M978.8,465.0 982.5,471.2 987.5,472.5 992.5,476.2 998.8,480.0 1002.5,483.8 1002.5,488.8 996.2,490.0M978.8,465.0 985.0,461.2 988.8,456.2 991.2,451.2M987.5,440.0 992.5,441.9 996.2,439.4 1001.2,442.5 1006.2,445.6 1010.0,450.0 1016.2,453.8 1020.0,453.8 1026.2,456.2 1031.2,455.6 1036.2,458.8 1037.5,463.8 1036.2,467.5 1032.5,470.0M1013.1,437.5 1008.8,442.5 1003.8,447.5 998.8,451.2 992.5,450.0M998.8,451.2 1002.5,453.8 1005.0,460.0 1008.8,466.2 1011.2,473.8 1012.5,478.8M1018.8,453.8 1017.5,462.5 1016.9,471.2 1016.2,477.5M1032.5,431.2 1037.5,430.0 1045.0,430.0 1046.9,433.8 1043.8,437.5 1043.8,443.8 1046.9,447.5M1053.8,402.5 1050.0,408.8 1048.8,415.0 1045.0,421.2 1043.8,427.5 1045.0,430.0M1041.2,392.5 1047.5,397.5 1053.8,401.2 1056.2,395.0 1057.5,390.0M1075.0,390.0 1076.9,397.5 1077.5,405.0 1077.5,412.5 1075.0,418.8 1070.0,419.4M1070.0,419.4 1078.8,421.2 1087.5,423.1M1072.5,391.9 1085.0,391.9M1096.2,402.5 1100.0,402.5M1086.2,486.2 1083.8,492.5 1087.5,500.0 1080.0,506.2M993.8,511.9 1007.5,511.9M1095.0,428.8 1100.0,431.2M1122.5,390.0 1126.2,395.0 1124.4,399.4M1100.0,401.9 1106.2,402.5 1108.1,404.4M1168.1,398.8 1166.9,405.0 1170.0,411.2 1171.9,418.8 1173.8,426.2 1174.4,430.0M1100.0,430.0 1105.0,433.8 1108.8,440.0 1111.2,447.5 1113.8,453.8M1236.2,430.0 1238.8,435.0 1242.5,441.2 1241.9,447.5 1235.0,445.0 1231.2,448.8 1228.8,455.0 1225.0,460.0 1217.5,463.8 1212.5,468.8 1209.4,470.0M1198.8,475.0 1203.8,473.8 1207.5,473.1M1155.0,493.8 1153.8,500.0 1155.0,505.0 1151.2,510.0 1147.5,515.0M1237.5,488.1 1235.0,493.8 1230.0,497.5 1225.0,502.5 1223.8,508.8 1223.1,515.0M1256.2,471.2 1255.6,477.5 1252.5,483.8 1255.0,488.8 1261.2,491.9 1263.8,498.8 1265.0,506.2 1268.8,515.0M1280.0,483.1 1287.5,483.1M1300.0,498.8 1295.0,502.5 1290.0,508.8 1285.0,515.0M1295.0,501.9 1303.8,505.0 1311.2,509.4 1317.5,508.8 1321.9,505.6M1342.5,542.5 1343.1,550.0 1342.5,557.5 1341.2,565.0M1280.6,528.8 1273.8,529.4 1268.8,531.2 1262.5,536.2 1257.5,540.0 1253.8,545.0 1251.9,547.5M1268.8,515.0 1271.2,522.5 1273.1,528.8M820.6,463.8 818.8,470.0 821.2,477.5 825.0,483.8M880.0,508.8 877.5,515.0 876.2,518.8 868.8,520.0 860.0,522.5 851.2,526.2M703.8,520.6 707.5,525.0 712.5,531.2 713.8,535.0 718.8,531.2 722.5,528.1 728.8,526.9 732.5,530.0 738.8,533.1 742.5,530.0 746.2,526.2 750.0,525.0 757.5,525.6 765.0,526.2 767.5,528.8 763.8,533.8 758.8,536.2 755.0,540.0M896.2,440.6 897.5,447.5 900.0,455.0M695.0,527.5 697.5,529.4M835.0,541.2 841.2,545.0 846.2,551.2 850.0,557.5 852.5,561.2M851.2,526.2 860.0,522.5M852.5,557.5 860.0,555.0M903.8,545.0 907.5,551.2 912.5,552.5 915.0,555.0 921.2,556.2 926.2,560.0M927.5,528.8 932.5,533.8 933.8,537.5M943.1,544.4 947.5,550.0 950.0,557.5 953.8,562.5 958.8,565.0 965.0,565.0M965.0,565.0 963.8,572.5 962.5,581.2 961.2,590.0 958.8,600.0 957.5,605.0M975.0,562.5 982.5,560.0 988.8,556.2 991.9,551.2M991.9,551.2 998.8,553.1M1046.2,535.0 1053.8,536.2 1058.8,541.2 1062.5,547.5 1066.2,551.2M1083.8,548.1 1090.0,551.2 1097.5,551.9 1103.8,549.4 1106.2,546.2M1106.2,532.5 1107.5,538.8 1110.0,543.8 1116.2,547.5 1123.8,551.2 1130.0,554.4M1147.5,515.0 1146.2,520.0 1147.5,526.2 1153.8,523.8 1160.0,525.0 1168.8,523.8 1176.2,526.9M1176.2,526.9 1181.2,522.5 1185.0,517.5 1192.5,518.8 1200.0,520.0 1208.8,519.4 1217.5,518.1 1223.8,517.5M1126.2,575.0 1130.0,581.2 1133.8,587.5 1136.2,590.0 1140.0,588.8M1136.2,590.0 1131.2,592.5 1129.4,596.2 1128.8,601.2 1123.8,603.8 1120.0,602.5M1100.0,580.6 1106.2,585.0 1111.2,590.0 1113.8,595.0 1117.5,600.0 1121.2,603.8M1128.8,602.5 1132.5,606.2 1138.8,607.5 1145.0,606.2 1151.2,605.6 1158.8,607.5M1161.2,565.0 1165.0,562.5 1171.2,559.4 1178.8,560.6 1185.6,561.9M1150.0,586.2 1157.5,583.8 1165.0,582.5 1172.5,578.8 1178.8,575.0 1185.0,570.0 1190.0,565.0 1192.5,558.8 1200.0,555.0 1205.0,552.5M1205.6,540.0 1206.2,546.2 1208.8,552.5 1210.0,558.8M1210.0,552.5 1215.0,548.8 1221.2,546.2 1227.5,541.2 1230.0,537.5M1057.5,584.4 1063.8,581.2 1070.6,580.0M1040.0,575.0 1043.8,577.5M1247.5,542.5 1248.8,545.6"/>
<path stroke="#20b559" stroke-width="3.2" d="M961.9,178.1 966.2,182.5 972.5,190.0 978.8,197.5 986.2,205.0 990.0,210.0 995.0,215.0 1000.0,217.5 1006.2,215.6 1012.5,216.9 1020.0,220.0 1027.5,221.9M960.6,221.2 966.2,217.5 972.5,213.8 977.5,210.0 986.2,205.0M988.8,171.9 992.5,177.5 996.2,183.8 998.8,187.5M1011.9,171.9 1016.2,177.5 1020.0,183.8 1023.8,189.4 1024.4,195.0M1033.8,156.9 1035.0,162.5 1032.5,168.8 1028.8,175.0 1025.0,182.5 1023.8,189.4M1023.8,195.0 1025.0,200.0 1026.9,206.2 1027.5,215.0 1027.5,221.9 1026.2,227.5 1024.4,235.0 1023.1,242.5 1023.1,250.0 1025.0,256.2 1026.2,261.2 1027.5,265.0M1002.5,208.1 1001.2,211.2 1003.8,216.2 1006.2,220.0 1006.2,225.0 1008.8,232.5 1010.0,238.8 1011.2,243.8M982.5,237.5 990.0,240.0 998.8,242.5 1005.0,244.4 1011.2,243.8 1016.2,247.5 1020.0,251.2 1023.1,255.0M1026.9,227.5 1031.2,223.8 1036.2,222.5 1042.5,223.8 1048.8,223.1 1051.2,226.2M1068.8,194.4 1063.8,198.8 1060.0,206.2 1057.5,213.8 1053.8,220.0 1051.2,226.2M1077.5,160.6 1078.1,167.5 1075.0,173.8 1073.1,178.8M1051.2,226.2 1057.5,228.1 1065.0,230.0 1072.5,235.0 1078.8,240.0M1078.8,240.0 1073.8,243.8 1068.8,247.5 1071.2,252.5 1075.0,257.5 1077.5,263.8M1085.0,236.2 1091.2,235.0 1097.5,232.5M1051.2,226.2 1046.2,230.0 1041.2,235.0 1039.4,240.0 1041.2,246.2 1040.0,252.5 1042.5,258.8 1043.1,265.0M1100.0,255.0 1092.5,257.5 1087.5,261.2 1083.8,265.0M942.5,236.9 941.9,243.8 945.0,248.8 946.9,256.2 947.5,265.0M926.9,258.1 930.0,262.5 932.5,265.0M1100.0,255.0 1106.9,252.5M932.5,265.0 937.5,270.0 943.8,276.2 950.0,281.2 955.0,286.2 961.2,291.2 967.5,296.2 972.5,300.0M947.5,265.0 946.2,268.8 952.5,272.5 956.2,278.8 960.0,285.0 963.8,291.9M909.4,284.4 916.2,285.6 920.0,282.5 925.0,285.6 932.5,288.1 941.2,290.0 950.0,291.9 958.8,291.9 965.0,293.1M965.0,293.1 970.0,297.5 975.0,302.5 980.0,307.5 983.8,311.2M972.5,298.8 977.5,293.8 983.8,287.5 988.8,281.2 992.5,275.0 993.8,268.8 995.0,265.0M926.9,316.9 933.8,316.9 941.2,316.2 947.5,310.0 955.0,306.9 963.8,304.4 970.0,301.9 973.8,299.4M976.2,303.1 982.5,305.0 990.0,306.2 996.2,306.9 1002.5,301.2 1007.5,298.8 1012.5,302.5 1016.2,304.4M1026.2,265.0 1026.9,271.2 1025.0,278.8 1021.2,285.0 1016.2,291.2 1014.4,297.5 1015.0,304.4 1015.6,312.5 1016.9,320.0 1020.0,328.8 1023.8,336.2 1026.2,342.5 1028.1,348.8 1028.8,355.0 1026.2,360.0 1024.4,363.8M1016.2,304.4 1023.8,305.6 1031.2,308.8 1037.5,307.5 1041.2,310.0 1046.2,305.0 1050.0,296.2 1057.5,295.0 1065.0,294.4 1072.5,295.0 1078.8,291.9 1083.8,294.4M1043.1,265.0 1042.5,271.2 1043.8,277.5 1045.6,283.8 1046.9,290.0 1048.8,295.6M995.0,316.9 1000.0,320.0 1006.2,324.4M1006.2,324.4 998.8,326.9 992.5,326.2 987.5,326.2 983.1,330.0 981.9,335.0 977.5,336.9 978.1,342.5 981.2,347.5 980.0,352.5 975.0,357.5 970.0,362.5 968.1,367.5 970.0,371.2M916.2,333.8 922.5,337.5 930.0,341.2 938.8,345.0 947.5,347.5 953.8,353.8 960.0,360.0 967.5,366.2 971.2,372.5 976.2,377.5 985.0,381.2 995.0,384.4 1003.8,386.9 1012.5,388.8 1020.0,390.0M916.2,348.8 918.8,355.0 923.1,361.2 928.8,366.2 936.2,371.2 943.8,375.0 950.0,378.8 955.0,382.5 960.0,383.8 967.5,382.5M943.8,347.5 947.5,355.0 952.5,361.2 958.8,366.2 967.5,368.8M921.2,382.5 928.8,384.4 937.5,386.2 945.0,383.8 951.2,381.2M1006.2,359.4 1005.0,365.0 1003.8,371.2 1003.8,377.5 1002.5,383.8M1024.4,363.8 1021.2,368.8 1020.0,375.0 1020.6,382.5 1021.9,390.0M1022.5,367.5 1027.5,363.8 1035.0,362.5 1041.2,364.4 1045.6,368.8 1052.5,375.0 1055.0,378.8 1053.8,383.8M1026.2,363.8 1025.0,358.8 1028.1,355.0M1083.8,294.4 1087.5,291.2 1092.5,293.8 1100.0,295.0M1078.8,291.9 1081.2,297.5 1081.9,302.5 1080.0,307.5 1080.6,315.0 1081.2,322.5 1082.5,327.5 1081.2,333.1 1077.5,338.8 1075.0,342.5 1068.8,342.5 1061.2,346.2 1056.2,350.0 1050.0,352.5M1075.0,342.5 1077.5,347.5 1072.5,351.2 1067.5,355.0 1062.5,360.0 1058.8,365.0 1056.2,368.8 1055.0,372.5M1077.5,265.0 1080.0,270.0 1087.5,272.5 1090.0,276.2 1087.5,281.2M1092.5,356.9 1098.8,357.5 1100.0,365.0M1047.5,382.5 1056.2,381.9 1066.2,382.5 1075.0,381.2 1085.0,381.9 1095.0,382.5 1100.0,383.1M1037.5,385.0 1042.5,381.2 1047.5,382.5M1100.0,294.4 1105.0,296.9 1111.2,300.0 1113.8,305.0 1118.8,311.2 1125.0,316.2 1131.2,322.5 1138.8,326.2 1142.5,328.8 1143.8,333.1M1143.8,333.8 1150.0,334.4 1156.2,334.4 1165.0,333.8 1172.5,333.1M1100.0,382.5 1107.5,381.2 1116.2,377.5 1125.0,373.8 1132.5,367.5 1138.8,360.0 1145.0,353.8 1150.0,350.0 1155.0,345.0 1162.5,340.0 1170.0,336.9 1180.0,334.4 1187.5,331.9 1195.0,327.5 1201.2,323.8 1207.5,320.0 1213.1,318.1M1100.0,384.4 1110.0,383.1 1122.5,380.0 1131.2,373.8 1137.5,365.0 1143.8,356.2 1150.0,352.5 1158.8,347.5 1167.5,341.2 1172.5,338.8M1189.4,299.4 1195.6,298.8M1189.4,300.0 1186.2,306.2 1181.2,312.5 1177.5,318.8 1175.0,325.0 1173.8,331.2 1171.9,336.2 1171.2,342.5 1173.8,348.8 1175.0,355.0 1177.5,360.0 1178.8,365.0 1176.2,370.0 1173.8,376.2 1170.0,382.5 1168.1,390.0M1186.2,308.1 1191.2,312.5 1196.2,316.2 1198.8,321.2 1199.4,326.2 1203.8,331.2 1210.0,335.0 1218.1,338.1M1150.0,351.2 1155.0,355.0 1160.0,358.8 1166.2,362.5 1170.0,364.4 1167.5,367.5 1173.8,368.8 1177.5,371.2 1181.2,376.2 1185.0,382.5 1187.5,390.0M1100.0,365.0 1101.2,371.2 1103.8,377.5 1106.2,382.5M1100.0,386.2 1105.0,388.8 1108.8,390.0M951.2,390.0 955.0,396.2 958.8,401.2 960.6,405.0 958.8,411.2 956.2,417.5 955.0,423.8M967.5,390.0 962.5,395.0 960.6,405.0M960.6,405.0 967.5,411.2 973.8,417.5 978.1,424.4 980.0,426.2M955.0,426.2 961.2,428.8 966.2,433.1 970.0,436.9 975.0,435.6 978.8,431.2 979.4,426.2M979.4,426.2 986.2,423.1 995.0,421.9 1005.0,420.6 1017.5,419.4 1025.0,416.9 1032.5,414.4 1040.0,411.2 1045.0,408.8M942.5,415.0 947.5,418.8 952.5,422.5 955.0,426.2M955.0,426.2 952.5,430.0 947.5,433.8 941.2,437.5 935.0,441.2 930.0,445.0 928.8,451.2M906.2,434.4 910.0,437.5 913.8,440.6 921.2,440.6 927.5,440.0 930.0,443.8M900.0,446.2 905.0,448.8 912.5,448.8 920.0,450.0 928.8,451.9M900.0,457.5 906.2,461.2 913.8,465.0 922.5,467.5 930.0,468.1 937.5,470.0 946.2,471.2 950.0,476.2 956.2,480.0 962.5,485.0 967.5,490.0 972.5,495.0 977.5,497.5M932.5,455.0 933.1,461.2 930.0,468.1 925.0,471.2 923.8,477.5 922.5,485.0 920.0,492.5 917.5,498.8 916.2,505.0 911.2,510.0 907.5,515.0M900.0,476.2 903.8,470.0 908.8,466.2 913.8,465.0M900.0,493.8 905.0,497.5 910.0,502.5 916.2,505.0 922.5,507.5 928.8,506.9 936.2,503.8M916.2,505.0 920.0,510.0 922.5,515.0M936.2,505.0 942.5,511.2 948.8,512.5 953.8,507.5 961.2,502.5 968.8,500.0 977.5,497.5 985.0,493.8 992.5,491.2 998.8,490.0 1003.8,488.8M977.5,497.5 982.5,502.5 987.5,507.5 991.2,511.2 993.8,515.0M966.2,515.0 967.5,507.5 968.8,500.0M977.5,435.0 982.5,440.0 987.5,442.5 990.0,447.5 991.2,452.5 992.5,457.5 996.2,463.8 1000.0,470.0 1002.5,477.5 1003.8,485.0 1003.8,492.5 1005.0,500.0 1006.2,507.5 1008.8,515.0M986.2,426.2 986.2,430.0 990.0,435.0 996.2,438.1M1031.2,395.0 1032.5,405.0 1033.1,415.0 1032.5,425.0 1027.5,432.5 1020.0,437.5 1015.0,443.8 1012.5,452.5 1012.5,462.5 1013.8,472.5 1013.8,480.0 1011.2,486.2 1006.2,491.2 1003.8,493.8M1025.0,436.2 1020.0,442.5 1018.8,450.0 1018.8,453.8M1032.5,427.5 1031.2,435.0 1032.5,442.5 1033.8,450.0 1037.5,455.0 1038.8,462.5 1042.5,467.5 1047.5,471.2 1053.8,475.0 1057.5,480.0 1058.8,483.8M1053.8,401.2 1058.8,406.2 1065.0,413.8 1070.0,421.2 1071.9,430.0 1073.8,438.8 1077.5,447.5 1078.8,452.5M1076.2,406.2 1082.5,406.2 1090.0,404.4 1096.2,402.5M1100.0,416.2 1093.8,416.9 1087.5,422.5 1080.0,426.2 1075.0,431.2 1067.5,433.8 1063.8,438.8 1056.2,442.5 1053.8,445.0M1038.8,455.0 1041.2,450.0 1047.5,448.8 1053.8,451.2M1078.8,452.5 1085.0,455.0 1091.2,458.8 1096.2,461.2 1100.0,460.0M1096.2,461.2 1092.5,467.5 1087.5,473.8 1082.5,478.8 1072.5,477.5 1063.8,480.0 1058.8,483.8 1052.5,485.0 1046.2,486.2 1041.2,491.2 1032.5,492.5 1025.0,497.5 1018.8,496.2 1012.5,493.8 1007.5,497.5M1003.8,488.8 1010.0,485.0 1016.2,480.0 1020.0,477.5 1023.8,472.5 1030.0,470.0 1032.5,471.2M1082.5,478.8 1086.2,485.0 1093.8,483.8 1100.0,481.9M1032.5,497.5 1037.5,502.5 1042.5,507.5 1047.5,512.5 1050.0,515.0M1108.8,390.0 1113.8,393.1 1118.8,396.2 1124.4,399.4M1100.0,416.9 1105.0,415.0 1110.6,412.5 1108.8,407.5 1108.1,404.4 1113.8,401.9 1118.8,400.0 1124.4,399.4M1124.4,399.4 1132.5,400.6 1142.5,401.9 1152.5,402.5 1158.8,399.4 1166.2,398.1 1168.1,401.2 1171.2,405.0 1177.5,406.9 1182.5,406.2 1186.2,402.5 1193.8,401.2 1202.5,401.2 1210.0,399.4 1217.5,396.2 1225.0,395.6 1231.9,396.2M1187.5,390.0 1190.0,395.0 1193.8,400.6M1168.1,390.0 1168.1,396.2 1168.1,401.2M1200.0,401.9 1202.5,407.5 1208.8,410.0 1211.9,415.0 1212.5,421.2M1124.4,399.4 1126.2,406.2 1128.8,413.8 1131.9,421.2 1135.0,426.9 1141.2,431.2 1146.2,438.8 1150.0,446.2 1152.5,453.8 1153.8,460.0 1153.1,467.5 1151.2,475.0 1151.9,482.5 1153.8,488.8 1155.0,493.8M1174.4,430.0 1175.0,437.5 1176.2,443.8 1174.4,450.0 1175.0,456.2 1176.9,462.5 1178.8,468.8 1181.2,472.5 1188.8,471.2 1192.5,473.1 1198.8,475.0M1153.8,457.5 1160.0,455.0 1167.5,455.0 1175.0,456.9M1206.2,439.4 1203.8,445.0 1206.9,451.2 1208.1,457.5 1207.5,465.0 1208.8,470.6M1115.0,453.8 1120.0,456.2 1123.1,460.6 1130.0,460.0M1100.0,461.2 1105.0,466.2 1108.8,471.2 1112.5,476.2 1120.0,477.5 1127.5,480.0 1133.8,482.5 1138.8,487.5 1143.8,491.2 1146.9,496.2 1146.2,501.2M1108.8,471.2 1111.2,465.0 1113.8,461.9 1123.1,461.2M1108.8,471.2 1105.0,476.2 1103.8,481.2 1100.0,483.1M1130.0,460.0 1130.6,465.0 1131.2,471.2 1132.5,477.5 1136.2,481.2M1131.2,458.1 1136.2,458.1 1142.5,460.0 1146.2,465.0 1152.5,465.6M1146.2,501.2 1140.0,502.5 1132.5,505.0 1127.5,510.0 1125.0,515.0M1155.0,503.8 1160.0,506.2 1163.8,511.2 1166.2,515.0M1208.8,472.5 1202.5,480.0 1198.8,486.2 1193.8,492.5 1197.5,498.8 1198.8,505.0 1198.8,515.0M1208.8,473.8 1210.0,482.5 1213.8,490.0 1212.5,496.2 1216.2,502.5 1218.8,508.8 1220.0,515.0M1210.0,472.5 1217.5,475.0 1222.5,482.5 1230.0,485.0 1237.5,488.1 1245.0,490.0 1252.5,491.2 1256.2,491.2M1211.2,471.9 1220.0,471.2 1230.0,470.0 1235.0,466.2 1237.5,462.5 1241.2,460.6M1255.6,462.5 1256.2,470.0M1281.2,472.5 1280.0,480.0 1277.5,485.0 1272.5,488.8 1270.0,490.0M1270.0,490.0 1277.5,490.0 1285.0,493.8 1291.2,497.5 1295.0,502.5M1100.0,502.5 1105.0,505.0 1104.4,510.0 1100.0,513.8M1319.4,498.8 1321.9,505.0 1323.8,511.2 1326.2,517.5 1330.0,521.2 1336.2,525.0 1338.8,531.2 1341.9,537.5 1342.5,542.5M1321.9,505.0 1327.5,506.2 1332.5,508.8 1340.0,510.0 1350.0,513.1M1330.0,521.2 1326.2,525.0 1317.5,526.2 1310.0,525.6 1300.0,523.8 1292.5,521.9 1286.2,525.0 1280.6,528.8M1283.8,515.0 1282.5,521.2 1283.1,526.2M1250.0,541.2 1255.0,540.0 1258.8,539.4M780.6,471.9 785.0,478.8 790.0,485.0 795.0,491.2 800.0,498.8 802.5,505.0 806.2,511.2 812.5,518.8 818.8,525.0 825.0,531.2 830.0,536.2 833.8,540.0M790.0,465.0 795.0,469.4 800.0,468.8 806.2,465.0 813.8,463.1 820.6,462.5M812.5,452.5 815.0,457.5 820.6,462.5M744.4,493.8 750.0,497.5 757.5,501.2 766.2,505.0 775.0,510.0 781.2,515.0 785.0,518.8M800.0,500.6 793.8,502.5 790.0,507.5 787.5,513.8 785.0,518.8 783.8,523.8 787.5,527.5 795.0,531.2 805.0,535.0 815.0,538.1 822.5,540.0M796.2,493.8 801.2,490.0 807.5,486.9 812.5,488.8 818.8,488.8 825.0,486.2M825.0,483.8 825.0,491.2 827.5,497.5 827.5,503.8 831.2,510.0 835.0,513.8 837.5,520.0 841.2,526.2 842.5,533.8 842.5,540.0M826.2,483.1 832.5,486.2 838.8,487.5 843.8,492.5 845.0,497.5 850.0,501.2 855.0,505.0 856.2,510.0 860.0,511.2 855.0,513.8 852.5,520.0 851.2,527.5 850.0,535.0 850.0,540.0M837.5,462.5 842.5,463.1 846.2,466.2 850.0,463.1 857.5,465.0 863.8,468.8 868.8,472.5 873.8,476.2 876.2,481.2 880.0,486.2 887.5,488.8 895.0,491.2 900.0,492.5M868.1,458.1 861.2,461.9 856.2,466.2 854.4,471.2 855.0,477.5 854.4,485.0 855.0,492.5 855.0,500.0 856.2,505.0M875.6,445.0 880.0,447.5 885.0,451.2 890.0,452.5 895.0,455.0 900.0,457.5M900.0,476.2 895.0,482.5 890.0,488.8 886.2,496.2 882.5,503.8 880.0,508.8M856.2,500.0 863.8,501.2 871.2,501.9 875.0,505.0 880.0,507.5M720.6,497.5 722.5,503.8 723.1,508.8 717.5,511.2 711.2,514.4 705.0,515.0 701.2,516.2 703.8,521.2 700.0,525.0M785.0,524.4 777.5,526.2 771.2,530.0 765.0,533.1M900.0,518.8 895.0,522.5 888.8,527.5 883.8,532.5 880.0,540.0M716.2,533.8 720.0,540.0M790.0,527.5 795.0,535.0 796.2,540.0M700.0,525.0 695.0,527.5 690.0,526.2 685.0,522.5 679.4,518.1M720.0,540.0 723.8,545.0 731.2,546.2 738.8,548.8 745.0,545.0 751.2,542.5 755.6,540.0M822.5,540.0 828.8,536.9 837.5,536.2 845.0,537.5 850.0,538.8M793.8,531.2 796.2,537.5 797.5,543.8 801.2,550.0 808.8,553.8 817.5,551.2 826.2,550.0 835.0,548.8 840.0,546.9M833.8,540.0 840.0,545.0 845.0,548.8M842.5,540.0 843.8,545.0 846.2,550.0M850.0,540.0 849.4,546.2 850.0,550.0M823.8,586.2 827.5,580.0 833.8,575.0 840.0,572.5 846.2,567.5 851.2,563.8M851.2,563.8 855.0,571.2 857.5,578.8 857.5,586.2 853.8,593.8 850.0,601.9M852.5,563.8 860.0,568.8M851.9,553.8 858.8,552.5 867.5,551.2 877.5,548.8 887.5,546.2 896.2,544.4 902.5,543.1M911.2,539.4 915.0,536.2 921.2,532.5 928.8,528.1 935.0,524.4 941.2,520.0 946.2,516.9 950.0,515.0M851.9,553.8 856.2,546.2 863.8,544.4 871.2,544.4 878.8,541.9 882.5,533.8 888.8,528.8 895.0,526.2 896.2,521.2 901.2,517.5 905.0,515.0M850.0,537.5 857.5,541.9 862.5,547.5 866.2,552.5 872.5,557.5 878.8,561.2 885.0,562.5 886.9,568.8 890.0,572.5 896.2,576.2 902.5,581.2 907.5,586.2 913.8,590.0 920.0,593.1 930.0,594.4M852.5,563.8 860.0,568.8 868.8,571.2 876.2,575.0 883.8,580.0 890.0,585.0 896.2,590.0 900.0,595.0 903.8,600.0 908.8,602.5M851.9,563.8 855.0,571.2 857.5,578.8 857.5,586.2 853.8,595.0 850.6,602.5M908.8,602.5 915.0,598.8 920.0,593.8M908.1,602.5 908.8,610.0M922.5,515.0 923.8,521.2 927.5,527.5M933.8,537.5 933.8,543.8M915.0,536.9 917.5,540.0 925.0,540.6 933.8,543.1 942.5,544.4M933.8,543.8 928.8,548.8 927.5,556.2 926.2,565.0 923.8,573.8 922.5,582.5 920.6,592.5M931.9,594.4 940.0,596.2 947.5,598.8 953.8,601.9 957.5,605.0M957.5,605.0 958.1,610.0 958.8,615.0M963.1,515.0 961.9,521.2 963.1,527.5 964.4,533.8 965.0,542.5 965.0,552.5 965.0,565.0M964.4,533.8 971.2,536.2 977.5,541.2 985.0,546.9 991.9,551.2M965.0,565.0 971.2,564.4 975.0,562.5M998.8,553.1 1003.8,547.5 1010.0,541.2 1011.2,536.2 1007.5,532.5 1006.2,530.0M998.8,555.0 1000.0,561.2 1006.2,565.0 1012.5,567.5 1020.0,568.8 1027.5,570.6 1035.0,573.1 1040.0,573.8M1011.2,515.0 1015.0,518.8 1020.0,522.5 1026.2,526.2 1027.5,531.2 1032.5,536.2 1034.4,542.5 1035.0,548.8 1036.2,557.5 1037.5,565.0 1040.0,571.2M1040.0,541.2 1036.2,545.0 1035.0,548.8M1052.5,515.0 1057.5,518.8 1065.0,520.0 1070.0,518.8 1070.6,515.0M1040.0,540.0 1045.0,536.2 1046.2,530.0 1051.2,525.0 1057.5,520.6M1040.0,573.8 1046.2,573.1 1053.8,572.5 1055.0,567.5 1061.2,562.5 1063.1,555.0 1066.2,552.5M1066.2,552.5 1072.5,550.0 1078.8,548.8 1083.8,548.1M1083.8,548.1 1088.8,541.2 1092.5,536.2 1096.2,532.5 1102.5,530.0 1106.2,528.8M1101.2,515.0 1102.5,518.8 1105.0,521.2 1106.2,527.5 1105.6,531.2M1127.5,515.0 1122.5,518.8 1117.5,522.5 1113.8,526.2 1107.5,529.4M1066.2,552.5 1071.2,557.5 1077.5,561.2 1082.5,566.2 1086.2,571.2 1090.0,576.2 1095.0,580.0 1100.0,580.6M1071.2,580.0 1080.0,580.6 1090.0,580.6 1100.0,580.6M1100.0,580.6 1101.2,572.5 1107.5,571.2 1112.5,570.0 1116.2,565.0 1122.5,564.4M1100.0,580.6 1096.2,588.8 1092.5,596.2 1087.5,605.0 1085.0,608.8M1041.2,576.2 1045.0,582.5 1051.2,585.0 1057.5,586.2 1058.8,590.0 1065.0,593.8 1071.2,598.8 1076.2,602.5 1081.2,607.5 1085.0,609.4M1085.0,609.4 1093.8,608.1 1102.5,606.2 1111.2,604.4 1120.0,602.5M1122.5,605.0 1122.5,608.8 1117.5,615.0 1113.8,620.0 1110.6,623.1M1122.5,564.4 1126.2,558.8 1130.0,554.4 1135.0,548.8 1140.0,542.5 1145.0,538.8 1148.8,536.2M1130.0,554.4 1135.0,557.5 1140.0,560.0 1143.8,564.4 1152.5,564.4 1160.0,564.4M1148.8,536.2 1146.2,532.5 1146.9,526.9M1148.8,536.2 1155.0,537.5 1158.8,541.2 1163.8,538.8 1168.8,543.8 1173.8,548.1 1177.5,551.2 1185.0,552.5 1192.5,552.5 1197.5,551.2 1201.2,547.5 1206.2,544.4 1213.8,542.5 1221.2,540.0 1227.5,536.9 1231.2,535.0 1237.5,536.2 1240.0,538.8M1167.5,573.8 1162.5,576.2 1156.2,581.2 1150.0,586.2 1143.8,588.8 1140.0,588.8M1167.5,573.8 1172.5,571.2 1178.8,568.8 1185.0,563.8 1190.0,557.5 1195.0,555.0 1200.0,552.5M1167.5,573.8 1171.2,578.8 1172.5,583.8 1170.0,590.0 1166.2,596.2 1163.8,601.2 1161.2,607.5 1158.8,612.5M1141.2,608.1 1146.2,611.2 1152.5,615.0 1156.2,618.8 1158.8,625.0 1161.2,632.5 1162.5,637.5M1165.0,515.0 1167.5,520.0 1168.8,523.8M1176.2,526.9 1181.2,531.2 1187.5,533.8 1195.0,535.0 1201.2,538.1 1205.0,538.8M1199.4,515.0 1200.6,521.2 1202.5,528.8 1205.0,536.2 1205.6,540.0M1221.2,515.0 1221.2,522.5 1218.8,531.2 1216.2,540.0 1213.8,548.8M1222.5,518.8 1227.5,525.0 1231.2,531.2 1236.2,536.2 1240.0,538.8M1240.0,538.8 1245.0,540.0 1250.0,541.2"/>
<path stroke="#22c55e" stroke-width="4.2" d="M1063.8,390.0 1068.1,385.8 1075.0,383.0M1002.5,390.0 1012.5,391.9 1022.5,394.4 1032.5,395.6 1042.5,395.6 1052.5,394.4 1061.2,391.2 1063.8,390.0M1041.2,395.0 1043.8,402.5 1046.2,410.0 1048.8,418.8 1051.2,428.8 1053.8,438.8 1056.2,448.8 1058.8,457.5 1060.0,467.5 1061.2,477.5 1062.5,485.0 1067.5,492.5 1073.1,500.0 1078.0,506.2 1083.0,515.0M1083.8,515.0 1090.0,521.2 1096.2,528.8 1102.5,536.2 1108.8,545.0 1115.0,553.8 1121.2,562.5 1127.5,571.2 1133.8,580.0 1140.0,588.1 1146.2,596.2 1152.5,605.0 1157.5,613.8 1161.2,622.5 1162.5,631.2 1163.1,637.5"/>
<path stroke="#d02727" stroke-width="3.2" d="M934.4,465.6 935.6,471.2 937.5,477.5 936.2,485.0 938.8,490.0 943.8,493.8 947.5,498.8 952.5,503.8 951.9,510.0M1032.5,471.2 1036.9,476.2 1035.0,485.0 1033.8,492.5 1034.4,497.5 1030.0,502.5 1025.0,510.0 1022.5,515.0M1018.8,392.5 1025.0,390.0M1177.5,443.8 1183.8,445.6 1188.8,442.5 1192.5,441.9 1190.0,445.0 1193.1,450.0 1196.2,452.5 1193.8,456.2 1200.0,457.5 1202.5,460.0 1203.8,466.2 1205.0,470.0M850.0,551.9 852.5,550.6M1017.5,518.8 1023.8,515.0"/>

</svg><!--/MAPSVG-->
  <div class="legend"><b>REINHOLD</b>
    <i style="left:11px;background:#22b455"></i><i style="left:31px;background:#d4a00d"></i><i style="left:51px;background:#e26a14"></i><i style="left:71px;background:#cc2424"></i>
    <span style="left:11px">nízké</span><span style="right:12px">vysoké</span>
  </div>
</div>
<div class="split"></div>
<section class="tpanel">
  <div class="ttitle">Top 30 úseků</div>
  <div class="export"><svg style="position:absolute;left:10px;top:5px" width="14" height="14"><rect x="2" y="4.600" width="8.900" height="6.900" fill="#3f86d8"/><rect x="2" y="11.400" width="8.900" height="1.500" fill="#d3c0ea"/><path d="M5.700,1.200h1.900v3.800h1.300L6.650,7.600 4.400,5h1.300z" fill="#e23a5c"/></svg>Export CSV</div>
  <table>
    <colgroup><col style="width:148px"><col style="width:113px"><col style="width:200px"><col style="width:100px"><col style="width:113px"><col style="width:125px"><col style="width:100px"><col style="width:100px"><col></colgroup>
    <thead><tr><th>ŘSD ÚSEK</th><th>SILNICE</th><th>KRAJ</th><th>NEHODY</th><th>USMRCENÍ</th><th>DÉLKA [KM]</th><th>RAR</th><th>RSI</th><th>H [KČ]</th></tr></thead>
    <tbody>
      <tr><td>6-6578</td><td>15270</td><td>Jihomoravský</td><td>46</td><td>0</td><td>0.53</td><td>2.52</td><td>263</td><td>2.771 mil</td></tr>
      <tr><td>6-3731</td><td>412</td><td>Jihomoravský</td><td>40</td><td>0</td><td>0.71</td><td>1.92</td><td>243</td><td>3.129 mil</td></tr>
      <tr><td>6-1272</td><td>150</td><td>Jihomoravský</td><td>46</td><td>0</td><td>0.88</td><td>1.91</td><td>214</td><td>3.142 mil</td></tr>
      <tr><td>6-6020</td><td>4136</td><td>Jihomoravský</td><td>16</td><td>0</td><td>1.05</td><td>1.87</td><td>310</td><td>3.638 mil</td></tr>
      <tr><td>6-5980</td><td>4301</td><td>Jihomoravský</td><td>39</td><td>0</td><td>3.50</td><td>1.83</td><td>771</td><td>7.797 mil</td></tr>
      <tr><td>6-2203</td><td>0524</td><td>Jihomoravský</td><td>7</td><td>0</td><td>0.28</td><td>1.70</td><td>28</td><td>476.229 tis</td></tr>
      <tr><td>6-2642</td><td>54</td><td>Jihomoravský</td><td>9</td><td>0</td><td>0.11</td><td>1.54</td><td>10</td><td>136.992 tis</td></tr>
    </tbody>
  </table>
</section>
</body>
</html>
